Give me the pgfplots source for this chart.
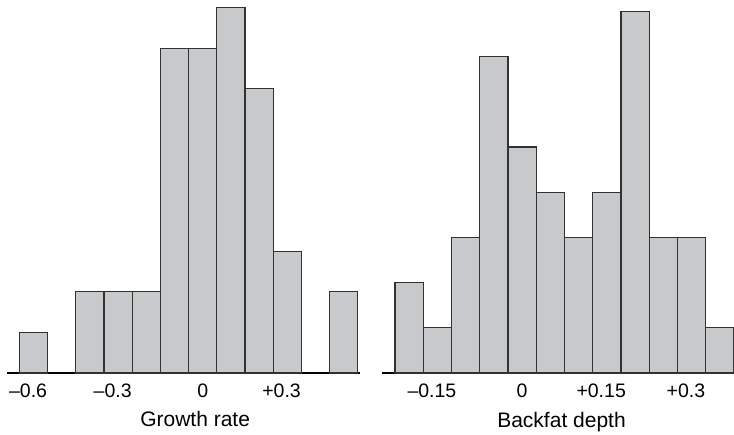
\documentclass[border=0pt]{standalone}
\usepackage{pgfplots}
\pgfplotsset{compat=1.18}
\usepackage{fontspec}
\setmainfont{Liberation Sans}
\definecolor{barfill}{RGB}{200,201,203}
\definecolor{baredge}{RGB}{50,50,50}
\pgfplotsset{
 hist/.style={
  scale only axis, height=373pt,
  axis x line=bottom, axis y line=none,
  axis line style={-, line width=1.3pt, black},
  ymin=0, ybar, bar shift=0pt,
  major tick length=0pt,
  xticklabel style={anchor=base, inner sep=0pt, yshift=-24.5pt, font=\fontsize{19.5}{22}\selectfont},
  xlabel style={anchor=base, inner sep=0pt, font=\fontsize{21}{25}\selectfont},
  clip=false,
 },
 histbar/.style={fill=barfill, draw=baredge, line width=1.2pt},
}
\begin{document}
\begin{tikzpicture}
\path[use as bounding box] (0,0) rectangle (734pt,434pt);
\begin{axis}[hist, at={(7pt,61pt)}, anchor=south west,
  width=353pt, xmin=-0.694, xmax=0.558, ymax=9.19, bar width=0.1,
  xtick={-0.6,-0.3,0,0.3},
  xticklabels={{\llap{–}0.6},{\llap{–}0.3},0,{\llap{+}0.3}},
  xlabel={Growth rate},
  xlabel style={at={(axis description cs:0.533,0)}, yshift=-54pt}]
\addplot[histbar] coordinates {(-0.6,1) (-0.4,2) (-0.3,2) (-0.2,2) (-0.1,8) (0,8) (0.1,9) (0.2,7) (0.3,3) (0.5,2)};
\end{axis}
\begin{axis}[hist, at={(382pt,61pt)}, anchor=south west,
  width=352pt, xmin=-0.248, xmax=0.375, ymax=8.25, bar width=0.05,
  xtick={-0.15,0,0.15,0.3},
  xticklabels={{\llap{–}0.15},0,{\llap{+}0.15},{\llap{+}0.3}},
  xlabel={Backfat depth},
  xlabel style={at={(axis description cs:0.51,0)}, yshift=-54pt}]
\addplot[histbar] coordinates {(-0.2,2) (-0.15,1) (-0.1,3) (-0.05,7) (0,5) (0.05,4) (0.1,3) (0.15,4) (0.2,8) (0.25,3) (0.3,3) (0.35,1)};
\end{axis}
\end{tikzpicture}
\end{document}
